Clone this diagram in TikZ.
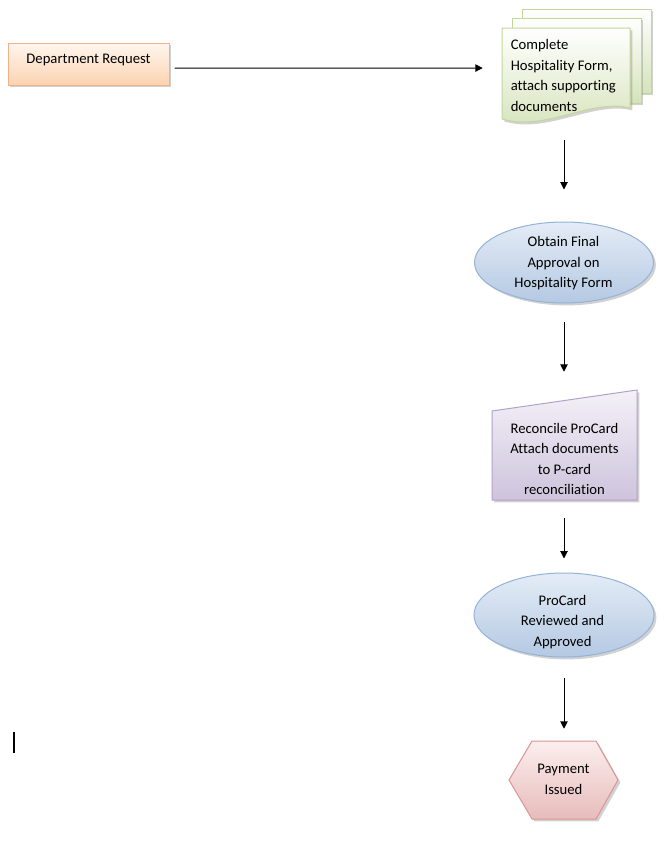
\documentclass[tikz,border=0pt]{standalone}
\usepackage{fontspec}
\setmainfont{Carlito}[Ligatures=NoCommon]
\usetikzlibrary{shapes.geometric,shadows,arrows.meta}
\definecolor{orT}{HTML}{FFF6EE}
\definecolor{orB}{HTML}{FBD3B2}
\definecolor{orD}{HTML}{F4B183}
\definecolor{grT}{HTML}{FFFFFF}
\definecolor{grB}{HTML}{D5E3BA}
\definecolor{grD}{HTML}{C3D69B}
\definecolor{blT}{HTML}{E4ECF6}
\definecolor{blB}{HTML}{B4C9E3}
\definecolor{blD}{HTML}{95B3D7}
\definecolor{puT}{HTML}{F4F1F8}
\definecolor{puB}{HTML}{CEC3DC}
\definecolor{puD}{HTML}{B3A2C7}
\definecolor{piT}{HTML}{FCEEEE}
\definecolor{piB}{HTML}{E7BCBB}
\definecolor{piD}{HTML}{D99694}
\tikzset{
  shad/.style={drop shadow={shadow xshift=1.8pt,shadow yshift=-1.8pt,opacity=0.3,fill=black!60}},
  orbox/.style={rectangle,draw=orD,line width=0.75pt,top color=orT,bottom color=orB,shad,
    minimum width=120.75pt,minimum height=31.5pt,inner sep=0pt},
  grpage/.style={draw=grD,line width=0.75pt,top color=grT,bottom color=grB,shad},
  blell/.style={ellipse,draw=blD,line width=0.75pt,top color=blT,bottom color=blB,shad,inner sep=0pt},
  pushape/.style={draw=puD,line width=0.75pt,top color=puT,bottom color=puB,shad},
  pishape/.style={draw=piD,line width=0.75pt,top color=piT,bottom color=piB,shad},
  ghost/.style={rectangle,inner sep=0pt},
  txt/.style={font=\fontsize{11}{15.4}\selectfont,align=center,inner sep=0pt,text=black},
  arr/.style={-{Triangle[length=5.5pt,width=5.5pt]},line width=0.75pt,black},
}
\begin{document}
\begin{tikzpicture}[x=0.75pt,y=-0.75pt]
\useasboundingbox (0,0) rectangle (667,844);

% Department Request
\node[orbox] (dr) at (88.5,64) {};
\node[txt] (drt) at (88.5,59.5) {Department Request};

% Document stack
\path[grpage] (522,9) rectangle (651,93);
\path[grpage] (512,18) rectangle (641,103);
\path[grpage] (502,28) -- (630,28) -- (630,108)
   .. controls (592,98) and (545,132) .. (502,119) -- cycle;
\node[ghost,minimum width=96pt,minimum height=68.25pt] (doc) at (566,73.5) {};
\node[txt,align=left,anchor=west] (doct) at (510.5,75.5)
   {Complete\\Hospitality Form,\\attach supporting\\documents};

% Ellipse 1
\node[blell,minimum width=134.25pt,minimum height=60.75pt] (e1) at (564,262.5) {};
\node[txt] (e1t) at (563.5,263.5) {Obtain Final\\Approval on\\Hospitality Form};

% Manual input
\path[pushape] (492,411) -- (637,390) -- (637,500) -- (492,500) -- cycle;
\node[ghost,minimum width=108.75pt,minimum height=82.5pt] (mi) at (564.5,445) {};
\node[txt] (mit) at (564.5,459) {Reconcile ProCard\\Attach documents\\to P-card\\reconciliation};

% Ellipse 2
\node[blell,minimum width=135pt,minimum height=63pt] (e2) at (564,615) {};
\node[txt] (e2t) at (562.5,622) {ProCard\\Reviewed and\\Approved};

% Hexagon
\path[pishape] (509,780) -- (532,741) -- (596,741) -- (618,780) -- (596,819) -- (532,819) -- cycle;
\node[ghost,minimum width=81.75pt,minimum height=58.5pt] (hx) at (563.5,780) {};
\node[txt] (hxt) at (563.5,779.5) {Payment\\Issued};

% Connectors
\draw[arr,shorten <=3.75pt,shorten >=14.25pt] ([yshift=-3pt]dr.east) -- ([yshift=4.1pt]doc.west);
\draw[arr,shorten <=15.75pt,shorten >=24pt] (e1.north |- doc.south) -- (e1.north);
\draw[arr,shorten <=13.5pt,shorten >=13.5pt] (e1.south) -- (e1.south |- mi.north);
\draw[arr,shorten <=13.5pt,shorten >=10.5pt] (e2.north |- mi.south) -- (e2.north);
\draw[arr,shorten <=15pt,shorten >=9pt] (e2.south) -- (e2.south |- hx.north);

% cursor mark
\draw[line width=0.9pt] (14,732) -- (14,753);
\end{tikzpicture}
\end{document}
